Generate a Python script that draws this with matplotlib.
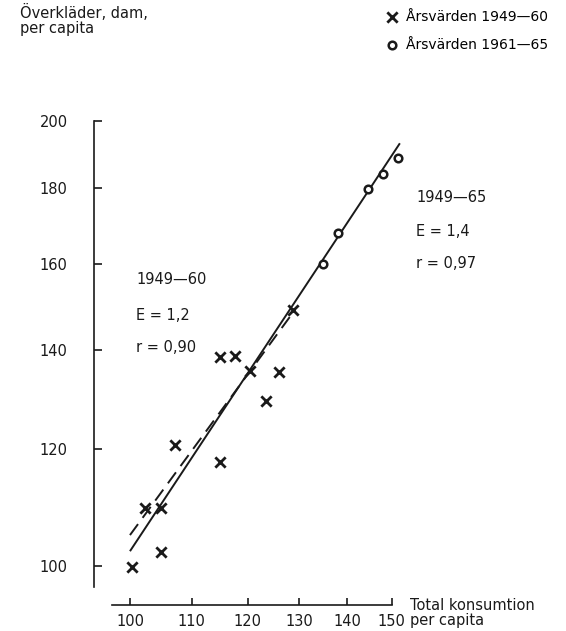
import numpy as np
import matplotlib
matplotlib.use("Agg")
import matplotlib.pyplot as plt

plt.rcParams['font.family'] = ['DejaVu Sans']

# Data (log-log scale)
cons_4960 = [100.3, 104.9, 102.3, 105.0, 107.2, 114.9, 114.9, 117.6, 120.4, 126.0, 123.4, 128.8]
clothes_4960 = [99.9, 102.2, 109.5, 109.5, 120.7, 117.7, 138.6, 138.7, 135.6, 135.4, 129.4, 149.0]
cons_6165 = [134.9, 138.0, 144.6, 148.0, 151.5]
clothes_6165 = [160.1, 167.9, 179.9, 184.1, 188.8]

# regression lines (end points as drawn)
fit_4965_x = [100.0, 151.9]
fit_4965_y = [102.4, 193.1]
fit_4960_x = [100.0, 129.1]
fit_4960_y = [105.0, 149.0]

xticks = [100, 110, 120, 130, 140, 150]
yticks = [100, 120, 140, 160, 180, 200]

W, H = 566, 631
fig = plt.figure(figsize=(W / 100, H / 100), dpi=100)


def fx(px):
    return px / W


def fy(py):
    return 1 - py / H


# axes box: left at y-spine, top at 200, bottom at end of y-spine
left, right, top, bottom = 94, 410, 120.7, 586.7
ax = fig.add_axes([fx(left), fy(bottom), fx(right) - fx(left), fy(top) - fy(bottom)])
ax.set_xscale('log')
ax.set_yscale('log')
ax.set_xlim(94.58, 154.3)
ax.set_ylim(96.9, 200)

ink = '#1a1a1a'
ax.plot(fit_4965_x, fit_4965_y, color=ink, lw=1.4, solid_capstyle='butt')
ax.plot(fit_4960_x, fit_4960_y, color=ink, lw=1.4, dashes=(7, 4))
ax.scatter(cons_4960, clothes_4960, marker='x', s=55, color=ink, linewidths=2,
           label='Årsvärden 1949—60', zorder=3)
ax.scatter(cons_6165, clothes_6165, marker='o', s=30, facecolors='white',
           edgecolors=ink, linewidths=1.8, label='Årsvärden 1961—65', zorder=3)

for s in ['top', 'right']:
    ax.spines[s].set_visible(False)
ax.spines['left'].set_color(ink)
ax.spines['left'].set_linewidth(1.2)
ax.spines['left'].set_bounds(96.9, 200)
ax.spines['bottom'].set_position(('outward', 13))
ax.spines['bottom'].set_bounds(97.25, 150)
ax.spines['bottom'].set_color(ink)
ax.spines['bottom'].set_linewidth(1.2)

ax.set_xticks(xticks)
ax.set_xticklabels([str(t) for t in xticks])
ax.set_yticks(yticks)
ax.set_yticklabels([str(t) for t in yticks])
ax.minorticks_off()
ax.tick_params(axis='y', direction='in', length=6, width=1.2, pad=19,
               labelsize=10.5, colors=ink)
ax.tick_params(axis='x', direction='in', length=5, width=1.2, pad=7,
               labelsize=10.5, colors=ink)

# axis titles
fig.text(fx(20), fy(20), 'Överkläder, dam,\nper capita', fontsize=10.5,
         color=ink, va='center', ha='left', linespacing=1.0)
fig.text(fx(410), fy(613), 'Total konsumtion\nper capita', fontsize=10.5,
         color=ink, va='center', ha='left', linespacing=1.05)

# legend
ax.legend(loc='upper left', bbox_to_anchor=(fx(384), fy(10)),
          bbox_transform=fig.transFigure, frameon=False, fontsize=10,
          handletextpad=0.35, labelspacing=1.0, handlelength=1.2,
          borderpad=0, borderaxespad=0)

# annotations
for txt, y in [('1949—60', 279), ('E = 1,2', 315), ('r = 0,90', 348)]:
    fig.text(fx(136), fy(y), txt, fontsize=10.5, color=ink, va='center', ha='left')
for txt, y in [('1949—65', 197), ('E = 1,4', 231), ('r = 0,97', 264)]:
    fig.text(fx(416), fy(y), txt, fontsize=10.5, color=ink, va='center', ha='left')

fig.savefig('out.png', dpi=100)
